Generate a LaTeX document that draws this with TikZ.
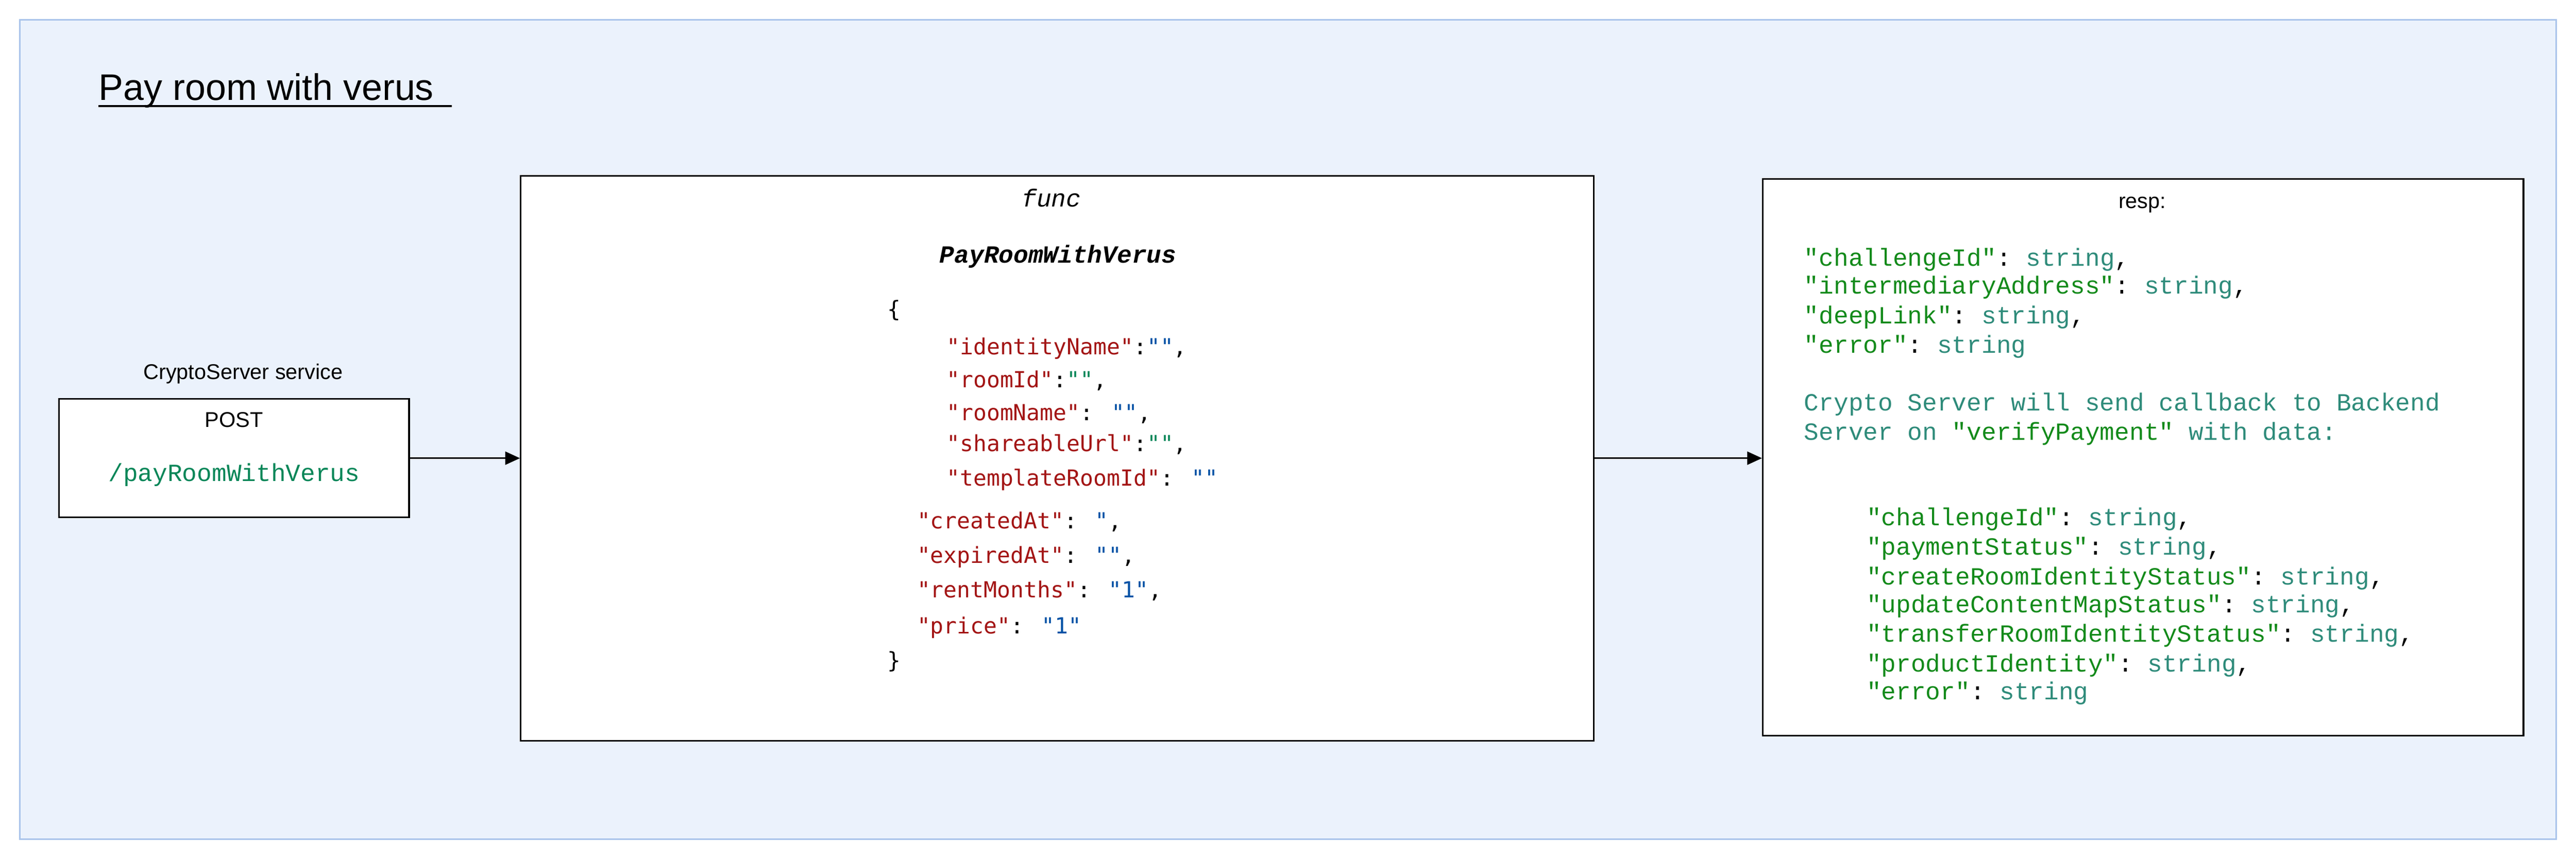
\documentclass[tikz,border=0pt]{standalone}
\usepackage{fontspec}
\setmainfont{Liberation Sans}
\setmonofont{Liberation Mono}
\newfontfamily\dmono{DejaVu Sans Mono}
\usetikzlibrary{arrows.meta}
\definecolor{bgc}{HTML}{EBF2FC}
\definecolor{bgs}{HTML}{A9C4EB}
\definecolor{kred}{HTML}{A31515}
\definecolor{vblue}{HTML}{0451A5}
\definecolor{vgreen}{HTML}{098658}
\definecolor{kgreen}{HTML}{138A1A}
\definecolor{steal}{HTML}{2E8B7A}
\newcommand{\kr}[1]{\textcolor{kred}{#1}}
\newcommand{\vb}[1]{\textcolor{vblue}{#1}}
\newcommand{\vg}[1]{\textcolor{vgreen}{#1}}
\newcommand{\kg}[1]{\textcolor{kgreen}{#1}}
\newcommand{\st}[1]{\textcolor{steal}{#1}}
\begin{document}
\begin{tikzpicture}[x=1pt,y=-1pt,
  box/.style={draw=black,fill=white,line width=1pt},
  lbl/.style={inner sep=0pt,anchor=base},
  fl/.style={inner sep=0pt,anchor=base west,font=\dmono\fontsize{13.5}{16}\selectfont},
  rl/.style={inner sep=0pt,anchor=base west,font=\ttfamily\fontsize{15}{18}\selectfont},
  arr/.style={-{Triangle[length=9pt,width=8pt]},line width=1pt}]
\useasboundingbox (0,0) rectangle (1568,523);
\draw[fill=bgc,draw=bgs,line width=1pt] (12,12) rectangle (1556,511);
\node[lbl,anchor=base west,font=\fontsize{22.5}{26}\selectfont] (title) at (60,61) {Pay room with verus};
\draw[line width=1.2pt] (title.base west) ++(0,3.5) -- ++(215,0);
\node[lbl,font=\fontsize{13}{16}\selectfont] (svc) at (148,231) {CryptoServer service};
\node[box,minimum width=213pt,minimum height=72pt] (post) at (142.5,279) {};
\node[lbl,font=\fontsize{13}{16}\selectfont] (postl) at (142.5,260) {POST};
\node[lbl,font=\ttfamily\fontsize{15}{18}\selectfont,text=vgreen] (path) at (142.5,293) {/payRoomWithVerus};
\node[box,minimum width=653pt,minimum height=344pt] (func) at (643.5,279) {};
\node[lbl,font=\ttfamily\itshape\fontsize{15}{18}\selectfont] (fn) at (640,126) {func};
\node[lbl,font=\ttfamily\bfseries\itshape\fontsize{15}{18}\selectfont] (fname) at (644,160) {PayRoomWithVerus};
\node[fl] (j0) at (540,193) {\{};
\node[fl] (j1) at (576,216) {\kr{"identityName"}:\vb{""},};
\node[fl] (j2) at (576,236) {\kr{"roomId"}:\vg{""},};
\node[fl] (j3) at (576,256) {\kr{"roomName"}: \vb{""},};
\node[fl] (j4) at (576,275) {\kr{"shareableUrl"}:\vg{""},};
\node[fl] (j5) at (576,296) {\kr{"templateRoomId"}: \vb{""}};
\node[fl] (j6) at (558,322) {\kr{"createdAt"}: \vb{"},};
\node[fl] (j7) at (558,343) {\kr{"expiredAt"}: \vb{""},};
\node[fl] (j8) at (558,364) {\kr{"rentMonths"}: \vb{"1"},};
\node[fl] (j9) at (558,386) {\kr{"price"}: \vb{"1"}};
\node[fl] (j10) at (540,407) {\}};
\node[box,minimum width=463pt,minimum height=339pt] (resp) at (1304.5,278.5) {};
\node[lbl,font=\fontsize{13}{16}\selectfont] (rl) at (1304,127) {resp:};
\node[rl] (r1) at (1098,162) {\kg{"challengeId"}: \st{string},};
\node[rl] (r2) at (1098,179) {\kg{"intermediaryAddress"}: \st{string},};
\node[rl] (r3) at (1098,197) {\kg{"deepLink"}: \st{string},};
\node[rl] (r4) at (1098,215) {\kg{"error"}: \st{string}};
\node[rl] (r5) at (1098,250) {\st{Crypto Server will send callback to Backend}};
\node[rl] (r6) at (1098,268) {\st{Server on}\ \kg{"verifyPayment"}\ \st{with data:}};
\node[rl] (s1) at (1136,320) {\kg{"challengeId"}: \st{string},};
\node[rl] (s2) at (1136,338) {\kg{"paymentStatus"}: \st{string},};
\node[rl] (s3) at (1136,356) {\kg{"createRoomIdentityStatus"}: \st{string},};
\node[rl] (s4) at (1136,373) {\kg{"updateContentMapStatus"}: \st{string},};
\node[rl] (s5) at (1136,391) {\kg{"transferRoomIdentityStatus"}: \st{string},};
\node[rl] (s6) at (1136,409) {\kg{"productIdentity"}: \st{string},};
\node[rl] (s7) at (1136,426) {\kg{"error"}: \st{string}};
\draw[arr] (post.east) -- (func.west);
\draw[arr] (func.east) -- (func.east -| resp.west);
\end{tikzpicture}
\end{document}
